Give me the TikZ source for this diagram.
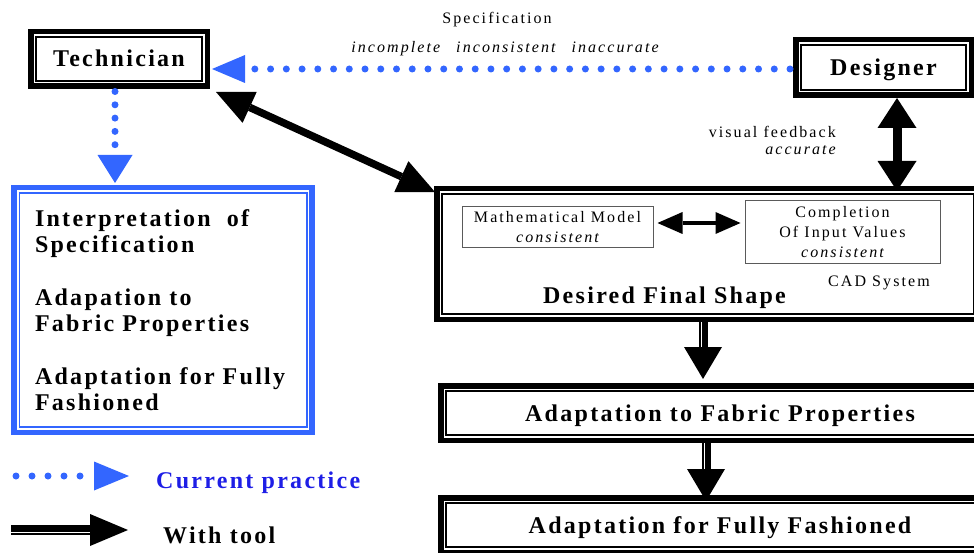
\documentclass[tikz,border=0pt]{standalone}
\usepackage{fontspec}
\setmainfont{Liberation Serif}
\newfontfamily\bfam[LetterSpace=9.5]{Liberation Serif}
\newfontfamily\rfam[LetterSpace=13]{Liberation Serif}
\usetikzlibrary{arrows.meta,calc}
\definecolor{pblue}{RGB}{51,102,255}
\definecolor{tblue}{RGB}{30,30,230}
\definecolor{gline}{RGB}{90,90,90}
\newcommand{\boldtxt}{\bfam\bfseries\fontsize{24}{26}\selectfont}
\newcommand{\regtxt}{\rfam\fontsize{16}{20}\selectfont}
\newcommand{\inframe}[2]{\draw[#2, line width=1.5pt] ([xshift=8pt,yshift=-8pt]#1.north west) rectangle ([xshift=-8pt,yshift=8pt]#1.south east);}
\tikzset{
  headBig/.tip={Triangle[length=37pt,width=34pt,line width=0pt]},
  headVert/.tip={Triangle[length=30pt,width=39pt,line width=0pt]},
  headSmall/.tip={Triangle[length=25pt,width=22pt,line width=0pt]},
  headDown/.tip={Triangle[length=32pt,width=38pt,line width=0pt]},
  headBlueH/.tip={Triangle[length=33pt,width=28pt,line width=0pt]},
  headBlueV/.tip={Triangle[length=28pt,width=35pt,line width=0pt]},
  headLegB/.tip={Triangle[length=35pt,width=29pt,line width=0pt]},
  headLegK/.tip={Triangle[length=38pt,width=32pt,line width=0pt]},
}
\begin{document}
\begin{tikzpicture}[x=1pt,y=-1pt,
  frame/.style={draw=black, line width=5.5pt, fill=white, inner sep=0pt, font=\boldtxt, text height=16pt, text depth=0pt},
  bluebox/.style={draw=pblue, line width=5.5pt, fill=white, font=\boldtxt, align=left, inner ysep=0pt, inner xsep=21pt},
  smallbox/.style={draw=gline, line width=1pt, fill=white, inner sep=0pt, font=\regtxt, align=center},
  txt/.style={inner sep=0pt, font=\regtxt},
  bluedots/.style={pblue, line width=7pt, line cap=round},
  ]
\useasboundingbox (0,0) rectangle (974,553);
\clip (0,0) rectangle (974,553);

% boxes
\node[frame, minimum width=176.5pt, minimum height=54.5pt] (tech) at (119,59) {Technician};
\node[frame, minimum width=175.5pt, minimum height=55.5pt] (des) at (883.5,67.5) {Designer};
\node[frame, minimum width=542.5pt, minimum height=130.5pt] (cad) at (708,254) {};
\node[frame, minimum width=558.5pt, minimum height=54.5pt] (fab) at (720,413) {Adaptation to Fabric Properties};
\node[frame, minimum width=558.5pt, minimum height=54.5pt] (ful) at (720,525) {Adaptation for Fully Fashioned};
\node[bluebox, minimum height=244.5pt, text width=256pt] (interp) at (163,310)
  {Interpretation~ of\\Specification\\[27pt]Adapation to\\Fabric Properties\\[27pt]Adaptation for Fully\\Fashioned};
\inframe{tech}{black}
\inframe{des}{black}
\inframe{cad}{black}
\inframe{fab}{black}
\inframe{ful}{black}
\inframe{interp}{pblue}

\node[smallbox, minimum width=191pt, minimum height=41pt] (math) at (557.5,227.5) {Mathematical Model\\\itshape consistent};
\node[smallbox, minimum width=195pt, minimum height=63pt] (comp) at (842.5,232.5) {Completion\\Of Input Values\\\itshape consistent};

% texts
\node[txt, anchor=base] (spec) at (497,24) {Specification};
\node[txt, anchor=base] (qual) at (505,53) {\itshape incomplete\hspace{16pt}inconsistent\hspace{16pt}inaccurate};
\node[txt, anchor=base east] (vf) at (836,138) {visual feedback};
\node[txt, anchor=base east] (acc) at (836,155) {\itshape accurate};
\node[txt, anchor=base, font=\boldtxt] (dfs) at (664.5,303) {Desired Final Shape};
\node[txt, anchor=base] (cads) at (879,287) {CAD System};
\node[txt, anchor=base west, font=\boldtxt, text=tblue] (cur) at (156,488) {Current practice};
\node[txt, anchor=base west, font=\boldtxt] (wt) at (163,543) {With tool};

% blue dotted: designer -> technician
\coordinate (s1) at ($(des.west)+(-3,1.5)$);
\coordinate (s2) at ($(tech.east |- s1)+(2,0)$);
\draw[bluedots, dash pattern=on 0pt off 15.74pt, -headBlueH] (s1) -- (s2);

% blue dotted: technician -> interpretation
\coordinate (d1) at ($(tech.south)+(-4,2.5)$);
\coordinate (d2) at ($(d1 |- interp.north)+(0,-2)$);
\draw[bluedots, dash pattern=on 0pt off 13.3pt, -headBlueV] (d1) -- (d2);

% technician <-> cad
\coordinate (t1) at ($(tech.south east)+(6,3)$);
\coordinate (t2) at ($(cad.north west)+(1,6)$);
\draw[line width=7.5pt, headBig-headBig] (t1) -- (t2);

% designer <-> cad
\coordinate (v1) at ($(des.south)+(13.5,0)$);
\coordinate (v2) at ($(v1 |- cad.north)+(0,5)$);
\draw[line width=9pt, headVert-headVert] (v1) -- (v2);

% math <-> completion
\coordinate (m1) at ($(math.east)+(4,-4.5)$);
\coordinate (m2) at ($(comp.west |- m1)+(-4,0)$);
\draw[line width=4pt, headSmall-headSmall] (m1) -- (m2);

% cad -> fabric
\coordinate (c1) at ($(cad.south)+(-5,0)$);
\coordinate (c2) at ($(c1 |- fab.north)+(0,-4)$);
\draw[line width=9pt, -headDown] (c1) -- (c2);
\draw[white, line width=1.5pt, shorten >=32pt] ($(c1)+(-1.5,0)$) -- ($(c2)+(-1.5,0)$);

% fabric -> fully
\coordinate (f1) at ($(fab.south)+(-14,0)$);
\coordinate (f2) at ($(f1 |- ful.north)+(0,6)$);
\draw[line width=9pt, -headDown] (f1) -- (f2);
\draw[white, line width=1.5pt, shorten >=32pt] ($(f1)+(-1.5,0)$) -- ($(f2)+(-1.5,0)$);

% legend
\coordinate (lg1) at (16,476);
\coordinate (lg2) at (129,476);
\draw[bluedots, dash pattern=on 0pt off 16pt, -headLegB] (lg1) -- (lg2);
\coordinate (lb1) at (11,530);
\coordinate (lb2) at (128,530);
\draw[line width=10pt, -headLegK] (lb1) -- (lb2);
\draw[white, line width=1.2pt, shorten >=38pt] ($(lb1)+(0,2.5)$) -- ($(lb2)+(0,2.5)$);
\end{tikzpicture}
\end{document}
